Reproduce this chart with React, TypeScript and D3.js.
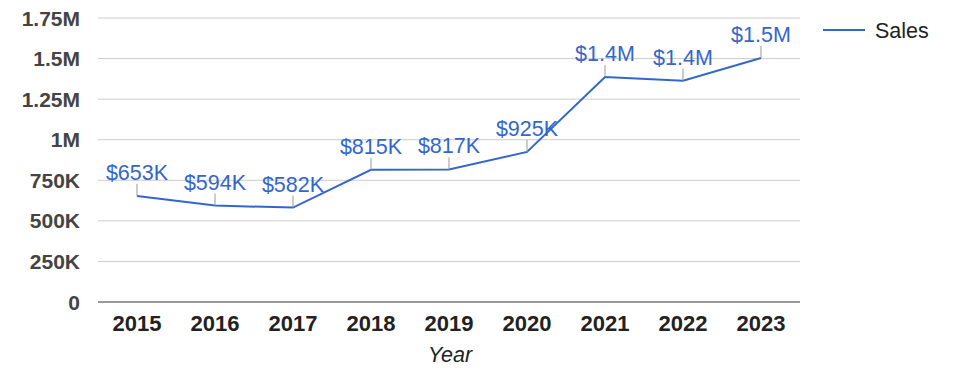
import React from "react";
import * as d3 from "d3";

const years = ["2015", "2016", "2017", "2018", "2019", "2020", "2021", "2022", "2023"];
const sales = [653000, 594000, 582000, 815000, 817000, 925000, 1386000, 1364000, 1503000];
const yTicks = [0, 250000, 500000, 750000, 1000000, 1250000, 1500000, 1750000];
const yTickLabels = ["0", "250K", "500K", "750K", "1M", "1.25M", "1.5M", "1.75M"];
const seriesName = "Sales";
const xTitle = "Year";

const fmt = (v: number) =>
  v >= 1e6 ? "$" + (v / 1e6).toFixed(1) + "M" : "$" + Math.round(v / 1000) + "K";

export default function App() {
  const W = 975, H = 378;
  const x = d3.scaleBand<string>().domain(years).range([98, 800]);
  const y = d3.scaleLinear().domain([0, 1750000]).range([302, 18]);
  const cx = (d: string) => (x(d) as number) + x.bandwidth() / 2;
  const line = d3
    .line<number>()
    .x((_, i) => cx(years[i]))
    .y((d) => y(d));
  const font = "Arial, 'Liberation Sans', sans-serif";
  const color = "#3366cc";
  return (
    <svg width={W} height={H} style={{ position: "absolute", left: 0, top: 0, background: "#fff" }}>
      {yTicks.map((t, i) => (
        <g key={t}>
          <line x1={98} x2={800} y1={y(t)} y2={y(t)} stroke={t === 0 ? "#333" : "#ccc"} strokeWidth={1} />
          <text
            x={80}
            y={y(t)}
            dy="0.36em"
            textAnchor="end"
            fontFamily={font}
            fontWeight="bold"
            fontSize={21}
            fill="#444"
          >
            {yTickLabels[i]}
          </text>
        </g>
      ))}
      {years.map((yr) => (
        <text
          key={yr}
          x={cx(yr)}
          y={331}
          textAnchor="middle"
          fontFamily={font}
          fontWeight="bold"
          fontSize={22}
          fill="#222"
        >
          {yr}
        </text>
      ))}
      <text x={450} y={362} textAnchor="middle" fontFamily={font} fontStyle="italic" fontSize={21.5} fill="#222">
        {xTitle}
      </text>
      <path d={line(sales) || ""} fill="none" stroke={color} strokeWidth={2} />
      {sales.map((v, i) => {
        const px = cx(years[i]);
        const py = y(v);
        return (
          <g key={i}>
            <line x1={px} x2={px} y1={py} y2={py - 12} stroke="#999" strokeWidth={1} />
            <text x={px} y={py - 16} textAnchor="middle" fontFamily={font} fontSize={21.5} fill={color}>
              {fmt(v)}
            </text>
          </g>
        );
      })}
      <line x1={823} x2={865} y1={30} y2={30} stroke={color} strokeWidth={2} />
      <text x={875} y={30} dy="0.36em" fontFamily={font} fontSize={21.5} fill="#222">
        {seriesName}
      </text>
    </svg>
  );
}
